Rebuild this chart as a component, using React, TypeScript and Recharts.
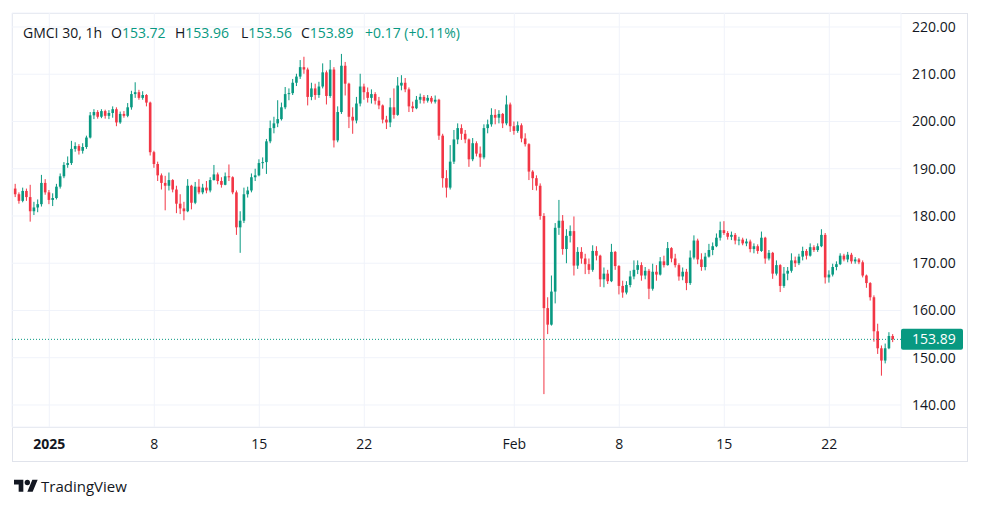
import React from 'react';
import { ComposedChart, Bar, XAxis, YAxis, CartesianGrid, ReferenceLine } from 'recharts';

const GREEN = '#089981';
const RED = '#f23645';
const TEXT = '#131722';
const GRID = '#f0f3fa';
const BORDER = '#e0e3eb';
const FONT = "'Open Sans', 'Noto Sans', sans-serif";

// 6h candles, hours counted from 2025-01-01 00:00
const candleHours = 6;
const firstHour = -54;
const firstOpen = 185.8;

const closes = [
  184.6, 183.2, 185.3, 184.0, 181.0, 181.8, 182.5, 187.0, 185.0, 183.4,
  183.8, 186.2, 188.4, 190.8, 191.2, 194.2, 194.8, 193.8, 194.6, 196.6,
  201.3, 202.0, 201.0, 202.2, 201.2, 201.8, 202.6, 199.8, 201.6, 201.2,
  203.0, 205.8, 206.2, 205.0, 205.6, 204.0, 193.5, 191.0, 188.6, 187.0,
  186.4, 187.6, 185.6, 182.6, 181.6, 181.0, 186.4, 182.8, 186.2, 185.0,
  186.0, 185.4, 187.6, 188.8, 187.4, 186.6, 188.4, 188.2, 185.0, 177.6,
  179.0, 184.6, 185.4, 188.2, 188.6, 191.2, 191.4, 195.8, 198.6, 199.6,
  200.5, 203.0, 205.8, 206.0, 208.2, 209.5, 211.5, 211.0, 205.2, 207.0,
  205.6, 207.4, 210.4, 205.4, 211.0, 196.0, 202.0, 211.8, 208.0, 201.0,
  200.2, 203.8, 207.4, 206.2, 205.0, 205.8, 204.4, 203.4, 200.4, 199.8,
  203.0, 201.4, 207.6, 208.2, 206.8, 203.2, 202.8, 204.6, 205.2, 204.4,
  205.0, 204.2, 204.6, 197.0, 188.0, 186.0, 191.5, 196.2, 198.6, 197.4,
  196.2, 192.0, 195.4, 193.2, 192.4, 198.6, 199.4, 201.4, 200.8, 201.6,
  199.6, 203.6, 199.0, 198.0, 199.2, 196.4, 195.2, 189.4, 188.0, 186.4,
  180.0, 160.5, 157.0, 164.0, 177.5, 179.0, 173.0, 175.8, 176.8, 169.5,
  172.4, 171.0, 169.8, 168.6, 172.6, 171.6, 166.6, 167.8, 166.2, 172.4,
  169.4, 165.2, 163.8, 165.4, 167.2, 168.6, 169.6, 167.4, 168.4, 164.6,
  168.2, 167.6, 170.4, 169.6, 173.2, 171.0, 169.6, 167.2, 168.2, 165.8,
  171.2, 174.8, 170.8, 169.2, 171.4, 172.8, 173.6, 175.4, 177.0, 176.4,
  175.6, 176.0, 174.8, 175.0, 174.2, 174.6, 173.0, 173.6, 172.6, 175.4,
  171.0, 172.2, 167.8, 169.6, 165.2, 167.8, 168.4, 170.6, 170.0, 171.4,
  172.6, 171.6, 173.4, 172.8, 173.6, 176.0, 167.0, 167.6, 169.2, 169.8,
  171.6, 170.8, 171.8, 170.4, 170.8, 170.2, 167.4, 165.8, 162.8, 155.6,
  152.0, 149.4, 152.0, 154.6, 153.89,
];

const highs = [
  186.8, 185.0, 186.0, 185.8, 186.6, 183.0, 183.5, 188.7, 187.8, 185.5,
  184.8, 186.8, 189.0, 191.4, 192.6, 195.9, 195.6, 195.2, 195.4, 197.0,
  202.0, 202.6, 202.4, 202.6, 202.5, 202.4, 203.2, 203.0, 202.1, 202.2,
  203.9, 206.5, 208.3, 206.7, 206.4, 205.8, 204.2, 193.8, 191.5, 189.0,
  188.5, 189.2, 187.8, 186.4, 184.6, 183.0, 187.8, 186.6, 187.2, 187.8,
  186.8, 187.4, 188.2, 190.8, 189.2, 188.2, 189.2, 190.9, 188.4, 185.4,
  181.0, 186.0, 186.2, 189.0, 190.0, 192.0, 192.4, 196.3, 200.2, 201.0,
  204.5, 204.0, 207.3, 207.0, 209.0, 210.1, 213.0, 213.7, 211.4, 208.2,
  208.0, 208.4, 212.3, 210.8, 213.0, 211.5, 203.2, 214.3, 212.6, 208.2,
  203.0, 205.2, 210.1, 208.0, 207.2, 206.8, 206.2, 205.2, 203.6, 201.2,
  205.0, 207.0, 209.4, 209.8, 209.2, 207.2, 204.2, 205.4, 205.9, 205.6,
  205.6, 205.4, 205.5, 204.8, 197.4, 189.7, 195.0, 198.2, 199.6, 199.4,
  198.2, 196.4, 196.5, 195.8, 194.7, 199.4, 200.4, 202.8, 202.6, 202.4,
  201.8, 205.5, 204.0, 200.0, 200.0, 199.6, 197.5, 195.4, 189.7, 188.6,
  186.9, 180.6, 162.8, 167.4, 178.5, 183.4, 180.2, 177.2, 178.0, 179.9,
  173.4, 173.4, 172.0, 171.0, 173.8, 173.6, 171.8, 169.1, 168.6, 174.1,
  172.6, 169.6, 166.3, 166.2, 168.4, 170.6, 170.6, 170.2, 169.2, 168.8,
  169.9, 169.6, 171.3, 171.6, 174.5, 173.4, 172.0, 170.0, 169.1, 168.8,
  172.7, 175.9, 175.2, 172.1, 172.2, 174.1, 174.4, 176.3, 178.8, 178.9,
  176.8, 176.7, 176.4, 175.6, 175.4, 175.2, 175.0, 174.2, 174.0, 176.7,
  175.6, 172.8, 172.4, 170.6, 169.8, 169.2, 169.2, 172.1, 171.4, 172.0,
  173.5, 173.0, 174.2, 173.8, 174.2, 177.2, 176.4, 168.5, 169.9, 170.4,
  172.1, 172.0, 172.4, 172.2, 171.3, 171.1, 170.6, 167.6, 166.0, 163.2,
  157.2, 152.6, 153.0, 155.4, 155.0,
];

const lows = [
  184.0, 182.6, 182.9, 183.2, 178.8, 180.2, 180.8, 182.0, 184.5, 182.5,
  182.1, 183.5, 185.8, 188.0, 190.2, 190.8, 193.6, 193.0, 193.2, 194.2,
  196.4, 200.5, 200.6, 200.7, 200.6, 200.5, 200.8, 199.0, 199.5, 200.8,
  200.9, 202.5, 205.0, 204.6, 204.6, 203.2, 192.8, 190.2, 187.4, 185.6,
  181.2, 185.4, 185.0, 180.6, 180.4, 179.1, 180.8, 181.4, 182.5, 184.6,
  184.6, 184.8, 185.0, 187.5, 186.7, 186.0, 186.5, 187.4, 184.6, 176.0,
  172.2, 178.5, 183.9, 185.0, 187.4, 188.4, 190.0, 188.9, 195.4, 197.5,
  198.8, 200.2, 202.6, 204.5, 205.6, 207.5, 209.0, 210.1, 203.4, 204.5,
  204.6, 205.0, 207.0, 203.6, 205.0, 194.5, 195.6, 201.6, 205.5, 198.6,
  197.4, 199.6, 203.2, 204.6, 204.0, 203.8, 203.6, 202.6, 199.6, 198.4,
  198.8, 200.6, 201.2, 206.6, 206.2, 202.0, 202.0, 202.6, 203.8, 203.8,
  204.0, 203.8, 203.8, 196.1, 186.0, 183.9, 185.6, 191.0, 195.2, 196.1,
  195.4, 190.4, 191.6, 192.6, 190.4, 192.0, 197.5, 198.9, 199.4, 199.6,
  198.6, 199.2, 197.8, 197.2, 197.6, 195.6, 194.7, 187.6, 185.5, 185.4,
  179.2, 142.3, 155.0, 156.8, 161.5, 176.0, 171.8, 170.0, 174.4, 167.4,
  168.8, 169.9, 167.7, 167.7, 168.2, 170.6, 165.0, 164.9, 165.6, 166.0,
  168.6, 163.4, 162.7, 163.4, 164.9, 166.6, 167.7, 166.3, 166.6, 162.4,
  164.2, 166.3, 167.4, 169.1, 169.5, 170.2, 169.1, 166.3, 166.4, 164.3,
  165.4, 170.8, 169.8, 168.4, 168.5, 171.2, 171.7, 173.4, 174.8, 176.0,
  175.0, 174.9, 174.0, 173.8, 173.8, 173.6, 172.3, 172.1, 172.0, 172.4,
  169.9, 170.6, 166.7, 167.4, 163.9, 164.8, 166.4, 168.0, 169.2, 169.6,
  170.6, 170.8, 171.4, 172.4, 172.4, 173.4, 165.7, 165.9, 167.2, 168.5,
  169.6, 170.4, 170.2, 169.9, 169.9, 169.8, 167.0, 164.8, 162.1, 153.4,
  150.8, 146.2, 148.8, 151.8, 153.3,
];

const timeTicks = [0, 168, 336, 504, 744, 912, 1080, 1248];
const timeLabels = ['2025', '8', '15', '22', 'Feb', '8', '15', '22'];
const priceTicks = [140, 150, 160, 170, 180, 190, 200, 210, 220];
const lastPrice = 153.89;

// legend: [label, value, left]
const legendTitle = 'GMCI 30, 1h';
const legendItems = [
  { label: 'O', value: '153.72', x: 111 },
  { label: 'H', value: '153.96', x: 175 },
  { label: 'L', value: '153.56', x: 241 },
  { label: 'C', value: '153.89', x: 301 },
  { label: '', value: '+0.17 (+0.11%)', x: 365 },
];

const data = closes.map((close, i) => {
  const open = i === 0 ? firstOpen : closes[i - 1];
  return {
    t: firstHour + i * candleHours,
    open,
    close,
    high: highs[i],
    low: lows[i],
    range: [lows[i], highs[i]],
  };
});

const Candle = (props: any) => {
  const { x, y, width, height, payload } = props;
  if (!payload) return null;
  const { open, close, high, low } = payload;
  const color = close >= open ? GREEN : RED;
  const top = Math.min(y, y + height);
  const h = Math.abs(height);
  const span = high - low || 1;
  const py = (v: number) => top + ((high - v) / span) * h;
  const cx = x + width / 2;
  const bTop = py(Math.max(open, close));
  const bBot = py(Math.min(open, close));
  return (
    <g>
      <line x1={cx} x2={cx} y1={top} y2={top + h} stroke={color} strokeWidth={1} />
      <rect x={cx - 1.3} y={bTop} width={2.6} height={Math.max(bBot - bTop, 1)} fill={color} />
    </g>
  );
};

const TimeTick = (props: any) => {
  const { x, y, payload } = props;
  const idx = timeTicks.indexOf(payload.value);
  const label = idx >= 0 ? timeLabels[idx] : '';
  return (
    <text
      x={x}
      y={y}
      dy="0.71em"
      textAnchor="middle"
      fill={TEXT}
      fontSize={14}
      fontFamily={FONT}
      fontWeight={idx === 0 ? 700 : 400}
    >
      {label}
    </text>
  );
};

const PriceTag = (props: any) => {
  const vb = props.viewBox || {};
  const left = vb.x + vb.width;
  const cy = vb.y;
  return (
    <g>
      <rect x={left} y={cy - 10.5} width={62} height={21} rx={2} fill={GREEN} />
      <text x={left + 11} y={cy} dy="0.35em" fill="#fff" fontSize={14} fontFamily={FONT}>
        {lastPrice.toFixed(2)}
      </text>
    </g>
  );
};

export default function App() {
  return (
    <div style={{ position: 'absolute', left: 0, top: 0, width: 981, height: 507, background: '#fff', fontFamily: FONT }}>
      <div style={{ position: 'absolute', left: 12, top: 13, width: 956, height: 449, border: `1px solid ${BORDER}`, boxSizing: 'border-box' }} />
      <div style={{ position: 'absolute', left: 12, top: 427, width: 956, height: 1, background: BORDER }} />
      <div style={{ position: 'absolute', left: 0, top: 0 }}>
        <ComposedChart width={981} height={507} data={data} margin={{ top: 13, right: 13, bottom: 45, left: 12 }}>
          <CartesianGrid stroke={GRID} />
          <XAxis
            dataKey="t"
            type="number"
            domain={[-59.68, 1362.72]}
            allowDataOverflow
            ticks={timeTicks}
            tick={<TimeTick />}
            tickLine={false}
            axisLine={false}
            tickSize={0}
            tickMargin={12}
            height={35}
            interval={0}
          />
          <YAxis
            orientation="right"
            type="number"
            domain={[135.34, 222.96]}
            allowDataOverflow
            ticks={priceTicks}
            tickFormatter={(v: number) => v.toFixed(2)}
            tick={{ fill: TEXT, fontSize: 14, fontFamily: FONT }}
            tickLine={false}
            axisLine={false}
            tickSize={0}
            tickMargin={11}
            width={67}
            interval={0}
          />
          <ReferenceLine y={lastPrice} stroke={GREEN} strokeDasharray="1 2" label={<PriceTag />} />
          <Bar dataKey="range" shape={<Candle />} barSize={3} isAnimationActive={false} />
        </ComposedChart>
      </div>
      <div style={{ position: 'absolute', left: 23, top: 24, lineHeight: '18px', fontSize: 14, color: TEXT, whiteSpace: 'nowrap' }}>
        {legendTitle}
      </div>
      {legendItems.map((p) => (
        <div
          key={p.x}
          style={{ position: 'absolute', left: p.x, top: 24, lineHeight: '18px', fontSize: 14, whiteSpace: 'nowrap' }}
        >
          <span style={{ color: TEXT }}>{p.label}</span>
          <span style={{ color: GREEN }}>{p.value}</span>
        </div>
      ))}
      <svg style={{ position: 'absolute', left: 14, top: 477 }} width={24} height={19} viewBox="0 0 36 28">
        <path d="M14 22H7V11H0V4h14v18zM28 22h-8l7.5-18h8L28 22z" fill={TEXT} />
        <circle cx={20} cy={8} r={4} fill={TEXT} />
      </svg>
      <div style={{ position: 'absolute', left: 41, top: 476, lineHeight: '20px', fontSize: 15, color: TEXT, whiteSpace: 'nowrap' }}>
        TradingView
      </div>
    </div>
  );
}
